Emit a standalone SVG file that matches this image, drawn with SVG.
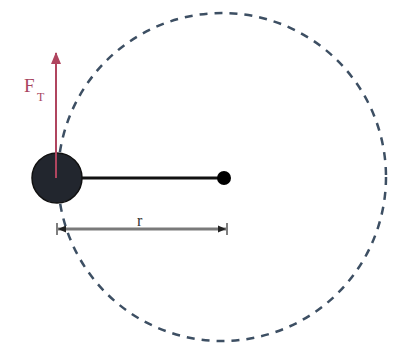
<svg xmlns="http://www.w3.org/2000/svg" width="404" height="358" viewBox="0 0 404 358">
<defs>
<style>
.orbit{fill:none;stroke:#3d4f63;stroke-width:2.5;stroke-dasharray:8 7}
.rod{stroke:#111;stroke-width:3}
.force{stroke:#b0455f;stroke-width:2}
.dim{stroke:#7a7a7a;stroke-width:3}
.lbl{font-family:"Liberation Serif",serif;fill:#a84560}
</style>
<marker id="fa" markerWidth="12" markerHeight="10" refX="11" refY="5" orient="auto" markerUnits="userSpaceOnUse" viewBox="0 0 12 10">
<path d="M0,0 L12,5 L0,10 Z" fill="#b0455f"/>
</marker>
</defs>
<rect width="404" height="358" fill="#fff"/>
<g id="orbit"><circle class="orbit" cx="222" cy="177" r="164"/></g>
<g id="connectors">
<line class="rod" x1="57" y1="178" x2="224" y2="178"/>
<line class="dim" x1="58" y1="229" x2="226" y2="229"/>
<line x1="57" y1="223" x2="57" y2="235" stroke="#555" stroke-width="1.5"/>
<line x1="227" y1="223" x2="227" y2="235" stroke="#555" stroke-width="1.5"/>
<path d="M58,229 L66,225.5 L66,232.5 Z" fill="#222"/>
<path d="M226,229 L218,225.5 L218,232.5 Z" fill="#222"/>
</g>
<g id="ball"><circle cx="57" cy="178" r="25" fill="#22262e" stroke="#111" stroke-width="1.5"/></g>
<g id="center"><circle cx="224" cy="178" r="7" fill="#000"/></g>
<g id="force">
<line class="force" x1="56" y1="178" x2="56" y2="53" marker-end="url(#fa)"/>
<text class="lbl" x="24" y="92" font-size="19">F</text>
<text class="lbl" x="37" y="101" font-size="12">T</text>
</g>
<g id="radius-label"><text x="137" y="226" font-family="Liberation Serif, serif" font-size="16" fill="#333">r</text></g>
</svg>
